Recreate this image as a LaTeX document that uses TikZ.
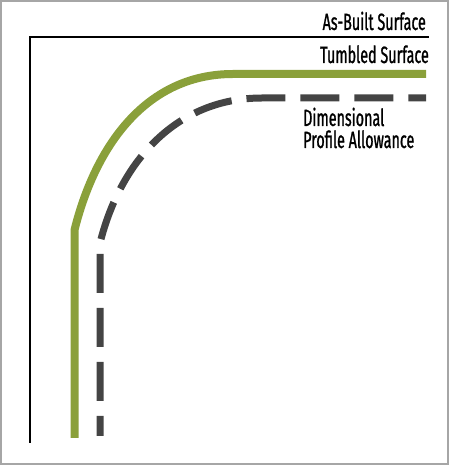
\documentclass[tikz,border=0pt]{standalone}
\usepackage{fontspec}
\setmainfont{Fira Sans}[FakeStretch=0.61,FakeBold=1]
\definecolor{tumbledgreen}{RGB}{138,160,58}
\definecolor{allowgray}{RGB}{68,68,68}
\begin{document}
\begin{tikzpicture}[x=1pt,y=1pt,
  surface/.style={line width=1.6pt,black},
  tumbled/.style={line width=8pt,tumbledgreen},
  allowance/.style={line width=7pt,allowgray,dash pattern=on 39pt off 15pt,dash phase=19pt},
  lbl/.style={inner sep=0pt,font=\fontsize{23.5}{22}\selectfont,align=left}]
\useasboundingbox (0,0) rectangle (450,466);
\draw[line width=1.2pt,color=black!35] (1,2) rectangle (448,465);
% as-built surface
\draw[surface] (30,23) -- (30,429) -- (429,429);
% tumbled surface
\draw[tumbled] (74.5,28) -- (74.5,236) to [out=76,in=180] (233,392) -- (426,392);
% dimensional profile allowance
\draw[allowance] (100,30) -- (100,223) to [out=76,in=180] (262,368) -- (426,368);
\node[lbl,anchor=base east] (asbuilt) at (426,436) {As-Built Surface};
\node[lbl,anchor=base east] (tumbled) at (429,403) {Tumbled Surface};
\node[lbl,anchor=base west] (allowance) at (303,318) {Dimensional\\Profile Allowance};
\end{tikzpicture}
\end{document}
